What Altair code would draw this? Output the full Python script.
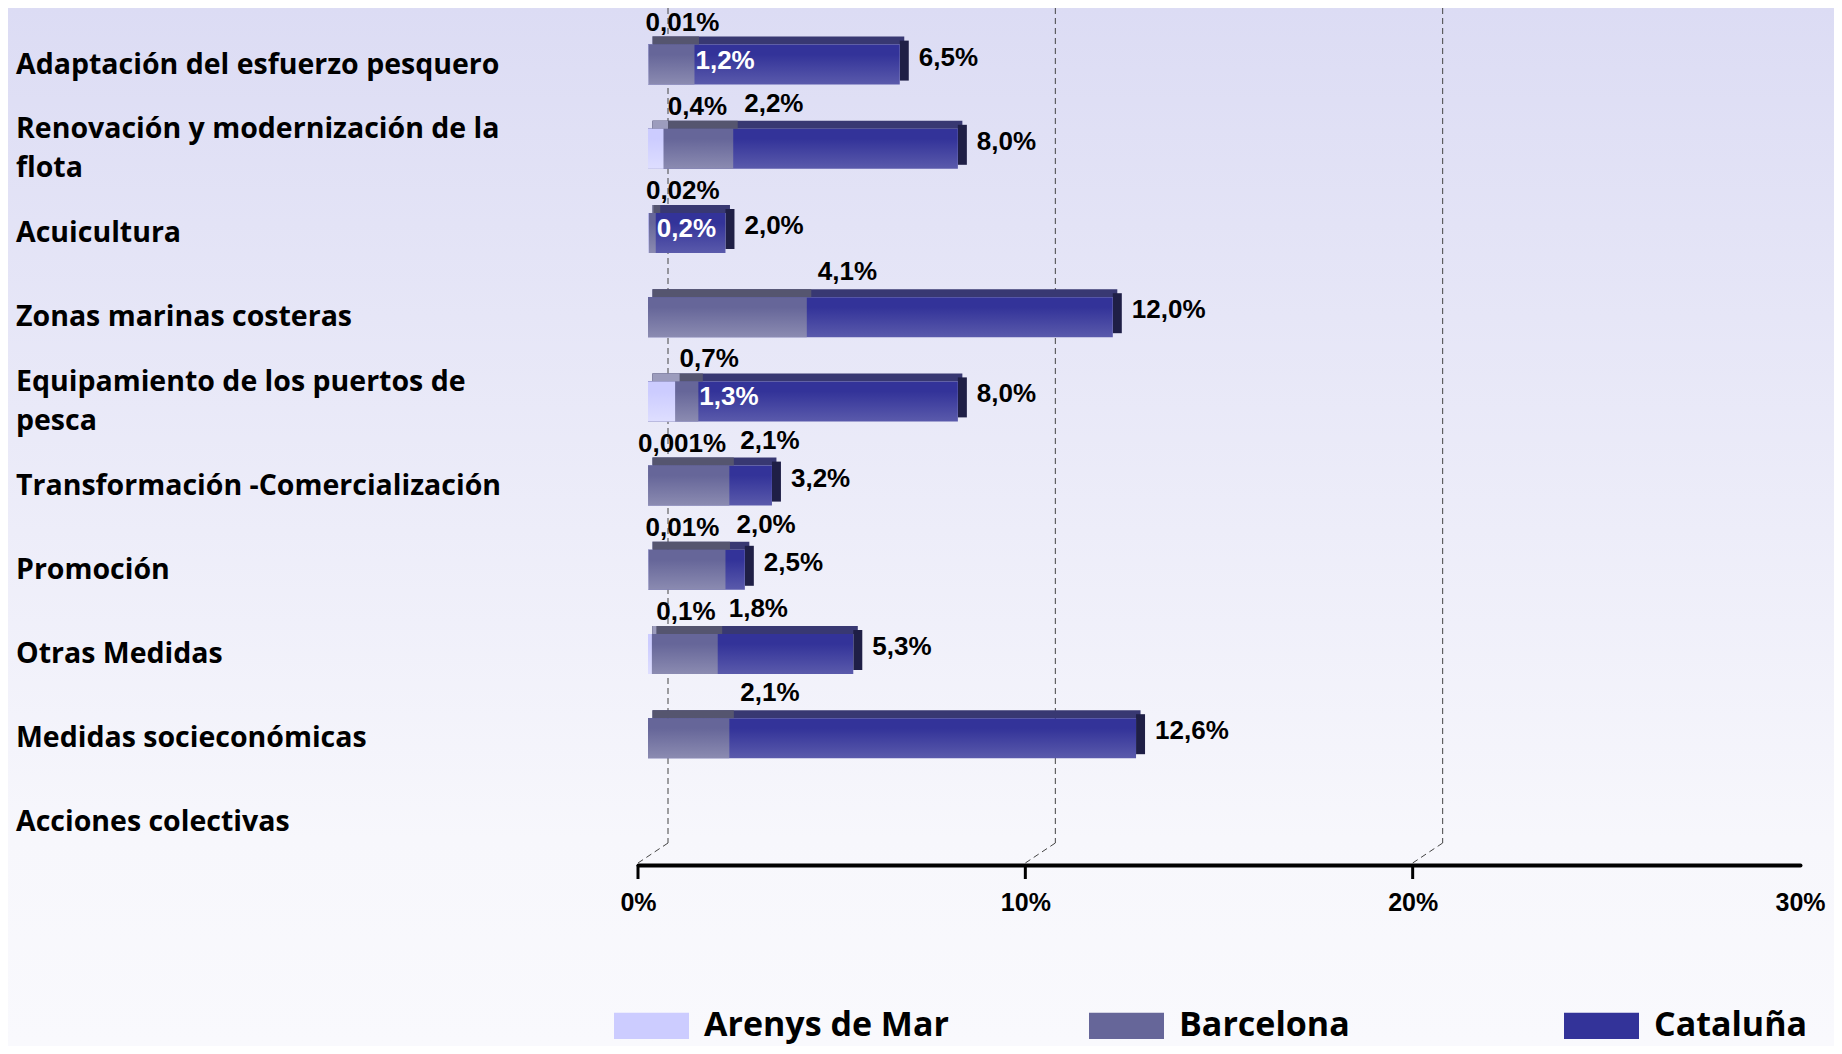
import altair as alt
import pandas as pd

# ---------------- data ----------------
categories = [
    "Adaptación del esfuerzo pesquero",
    "Renovación y modernización de la\nflota",
    "Acuicultura",
    "Zonas marinas costeras",
    "Equipamiento de los puertos de\npesca",
    "Transformación -Comercialización",
    "Promoción",
    "Otras Medidas",
    "Medidas socieconómicas",
    "Acciones colectivas",
]
series = ["Arenys de Mar", "Barcelona", "Cataluña"]
arenys = [0.01, 0.4, 0.02, None, 0.7, 0.001, 0.01, 0.1, None, None]
barcelona = [1.2, 2.2, 0.2, 4.1, 1.3, 2.1, 2.0, 1.8, 2.1, None]
cataluna = [6.5, 8.0, 2.0, 12.0, 8.0, 3.2, 2.5, 5.3, 12.6, None]
x_ticks = [0, 10, 20, 30]
grid_values = [0, 10, 20]

# ---------------- styling / geometry ----------------
W, H, PAD_B = 1826, 857, 181
X_RANGE = [630, 1792]
Y_RANGE = [56.6, 814.4]
PX_Y = (Y_RANGE[1] - Y_RANGE[0]) / 9.0
HALF = 20 / PX_Y   # half bar height in y units
SHIFT = 10         # px shift of bars from axis zero
DEPTH_X, DEPTH_Y = 9, 8   # 3D depth (px)
LINE_H = 39        # category label line height (px)

FRONT = {
    "Arenys de Mar": ["#ccccff", "#dedeff"],
    "Barcelona": ["#666699", "#8b8bb1"],
    "Cataluña": ["#333399", "#5a5aab"],
}
TOP = {"Arenys de Mar": "#9c9cbd", "Barcelona": "#55556f", "Cataluña": "#383872"}
SIDE = "#1f1f46"
LEGEND_COLORS = ["#ccccff", "#666699", "#333399"]
VALUE_FONT = "Liberation Sans"
CAT_FONT = "Open Sans"

values = {"Arenys de Mar": arenys, "Barcelona": barcelona, "Cataluña": cataluna}


def fmt(v):
    s = f"{v:.1f}" if v >= 0.1 else f"{v:g}"
    return s.replace(".", ",") + "%"


xscale = alt.Scale(domain=[0, 30], range=X_RANGE, nice=False, zero=False)
yscale = alt.Scale(domain=[0, 9], range=Y_RANGE, nice=False, zero=False)
xaxis = alt.Axis(
    title=None, values=x_ticks, labelExpr="datum.value + '%'", ticks=False,
    grid=False, domainColor="black", domainWidth=4, domainCap="round",
    labelFont=VALUE_FONT, labelFontWeight="bold", labelFontSize=25,
    labelColor="black", labelPadding=25, labelFlush=False, labelOverlap=False,
    zindex=2,
)


def X(f):
    return alt.X(f, type="quantitative", scale=xscale, axis=xaxis)


def Y(f):
    return alt.Y(f, type="quantitative", scale=yscale, axis=None, stack=None)


layers = []

# background gradient
bg = alt.Chart(pd.DataFrame({"a": [0]})).mark_rect(
    color=alt.Gradient(
        gradient="linear",
        stops=[alt.GradientStop(color="#dcdcf4", offset=0),
               alt.GradientStop(color="#f7f7fc", offset=0.8),
               alt.GradientStop(color="#f9f9fd", offset=1)],
        x1=0, x2=0, y1=0, y2=1),
).encode(x=alt.value(0), x2=alt.value(W), y=alt.value(0), y2=alt.value(H + PAD_B))
layers.append(bg)

# dashed grid lines (back wall) with floor diagonals
gdf = pd.DataFrame({"g": grid_values})
grid_v = alt.Chart(gdf).mark_rule(xOffset=30, color="#444444", strokeWidth=1,
                                  strokeDash=[6, 4]).encode(
    x=X("g"), y=alt.value(0), y2=alt.value(835))
grid_d = alt.Chart(gdf).mark_rule(xOffset=30, x2Offset=0, color="#444444",
                                  strokeWidth=1, strokeDash=[6, 4]).encode(
    x=X("g"), x2="g", y=alt.value(835), y2=alt.value(855))
ticks = alt.Chart(gdf).mark_rule(color="black", strokeWidth=3).encode(
    x=X("g"), y=alt.value(857), y2=alt.value(871))
layers += [grid_v, grid_d, ticks]

# 3D bars: Cataluña at the back, then Barcelona, then Arenys de Mar in front
for s in ["Cataluña", "Barcelona", "Arenys de Mar"]:
    rows = [{"i": i, "x0": 0.0, "v": v, "yt": i - HALF, "yb": i + HALF}
            for i, v in enumerate(values[s]) if v is not None]
    d = pd.DataFrame(rows)
    half_dx = DEPTH_X / 2
    top = alt.Chart(d).mark_rect(
        color=TOP[s], xOffset=SHIFT + half_dx, x2Offset=SHIFT + half_dx,
        yOffset=-DEPTH_Y, y2Offset=0).encode(
        x=X("x0"), x2="v", y=Y("yt"), y2="yt")
    layers.append(top)
    if s == "Cataluña":
        side = alt.Chart(d).mark_rect(
            color=SIDE, xOffset=SHIFT, x2Offset=SHIFT + DEPTH_X,
            yOffset=-DEPTH_Y / 2, y2Offset=-DEPTH_Y / 2).encode(
            x=X("v"), x2="v", y=Y("yt"), y2="yb")
        layers.append(side)
    c0, c1 = FRONT[s]
    front = alt.Chart(d).mark_rect(
        xOffset=SHIFT, x2Offset=SHIFT,
        color=alt.Gradient(gradient="linear",
                           stops=[alt.GradientStop(color=c0, offset=0),
                                  alt.GradientStop(color=c0, offset=0.25),
                                  alt.GradientStop(color=c1, offset=1)],
                           x1=0, x2=0, y1=0, y2=1),
    ).encode(x=X("x0"), x2="v", y=Y("yt"), y2="yb")
    layers.append(front)

# value labels
cat_lab, bar_up, bar_in, are_lab = [], [], [], []
for i in range(len(categories)):
    a, b, c = arenys[i], barcelona[i], cataluna[i]
    if c is not None:
        cat_lab.append({"i": i, "v": c, "t": fmt(c)})
    if b is not None:
        row = {"i": i, "v": b, "t": fmt(b)}
        if a is not None and b < 1.5:
            bar_in.append(row)
        else:
            bar_up.append(row)
    if a is not None:
        are_lab.append({"i": i, "v": a, "t": fmt(a)})

txt = dict(font=VALUE_FONT, fontWeight="bold", fontSize=26, baseline="middle")
layers.append(alt.Chart(pd.DataFrame(cat_lab)).mark_text(
    align="left", xOffset=29, yOffset=-7, color="black", **txt).encode(
    x=X("v"), y=Y("i"), text="t:N"))
layers.append(alt.Chart(pd.DataFrame(bar_up)).mark_text(
    align="left", xOffset=21, yOffset=-45, color="black", **txt).encode(
    x=X("v"), y=Y("i"), text="t:N"))
layers.append(alt.Chart(pd.DataFrame(bar_in)).mark_text(
    align="left", xOffset=11, yOffset=-4, color="white", **txt).encode(
    x=X("v"), y=Y("i"), text="t:N"))
layers.append(alt.Chart(pd.DataFrame(are_lab)).mark_text(
    align="center", xOffset=44, yOffset=-42, color="black", **txt).encode(
    x=X("v"), y=Y("i"), text="t:N"))

# category labels (multi-line labels centred on their row)
cdf = pd.DataFrame({"i": list(range(len(categories))), "c": categories})
cdf["yl"] = cdf["i"] - cdf["c"].str.count("\n") * LINE_H / 2 / PX_Y
layers.append(alt.Chart(cdf).mark_text(
    align="left", baseline="middle", lineBreak="\n", lineHeight=LINE_H,
    font=CAT_FONT, fontWeight="bold", fontSize=28.5, color="black").encode(
    x=alt.value(8), y=Y("yl"), text="c:N"))

# legend
ldf = pd.DataFrame({"s": series})
legend_layer = alt.Chart(ldf).mark_rect(opacity=0).encode(
    x=alt.value(0), x2=alt.value(1), y=alt.value(0), y2=alt.value(1),
    color=alt.Color("s:N", scale=alt.Scale(domain=series, range=LEGEND_COLORS),
                    legend=alt.Legend(
                        title=None, orient="none", legendX=606, legendY=980,
                        direction="horizontal", columns=3, gridAlign="all",
                        columnPadding=140, symbolType="M-1,-0.35H1V0.35H-1Z",
                        symbolSize=5625, symbolOpacity=1, symbolStrokeWidth=0,
                        labelFont=CAT_FONT, labelFontSize=34, labelFontWeight="bold",
                        labelColor="black", labelOffset=15, labelLimit=600)))
layers.append(legend_layer)

chart = alt.layer(*layers).properties(
    width=W, height=H, autosize="none",
    padding={"left": 0, "top": 0, "right": 0, "bottom": PAD_B},
).configure_view(stroke=None)

chart.save("out.html", embed_options={"renderer": "svg", "actions": False})
